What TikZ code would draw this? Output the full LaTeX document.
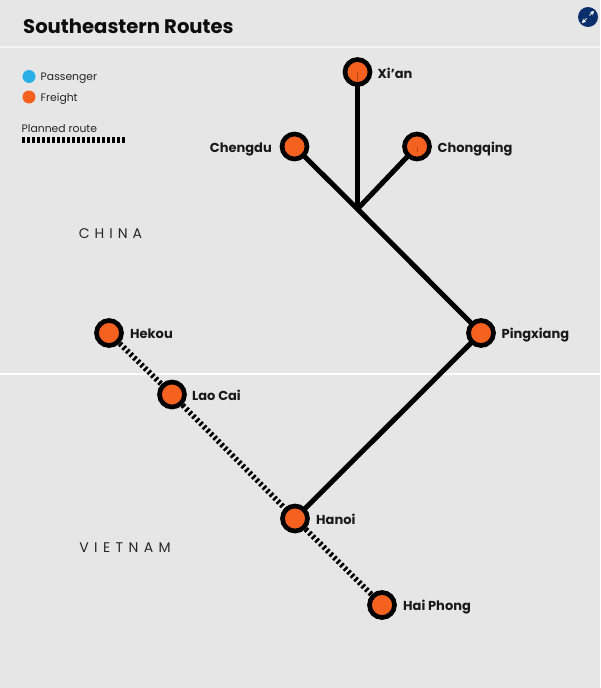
\documentclass[tikz,border=0pt]{standalone}
\usepackage{fontspec}
\setmainfont{Poppins}
\usetikzlibrary{arrows.meta}
\definecolor{bgc}{HTML}{E6E6E6}
\definecolor{frt}{HTML}{F5611F}
\definecolor{pas}{HTML}{2AAFE6}
\definecolor{navy}{HTML}{0B2F6B}
\tikzset{
  x=1pt,y=-1pt,
  station/.style={circle,draw=black,fill=frt,line width=4.7pt,minimum size=25pt,inner sep=0pt},
  route/.style={draw=black,line width=5pt},
  planned/.style={draw=black,line width=5.5pt,dash pattern=on 2.5pt off 2.5pt},
  city/.style={font=\fontsize{13}{13}\selectfont\bfseries,text=black!90,inner sep=0pt,text height=10pt,text depth=0pt},
  region/.style={font=\fontsize{14}{14}\selectfont,text=black!85,inner sep=0pt},
  legendtext/.style={font=\fontsize{10.8}{12}\selectfont,text=black!85,inner sep=0pt,anchor=west,text height=8pt,text depth=0pt},
  dot/.style={circle,inner sep=0pt,minimum size=13pt},
  divider/.style={line width=2pt},
  tick/.style={draw=frt!75!black,line width=0.5pt},
}
\begin{document}
\begin{tikzpicture}
\useasboundingbox (0,0) rectangle (600,688);
\fill[bgc] (0,0) rectangle (600,688);
\draw[divider,draw=white!60!bgc] (0,47) -- (600,47);
\draw[divider,draw=white] (0,374) -- (600,374);
\node[anchor=west,inner sep=0pt,font=\fontsize{19.6}{20}\selectfont\bfseries,text=black!95,text height=14pt,text depth=0pt] (title) at (23,26.3) {Southeastern Routes};
\node[dot,fill=pas] (lp) at (29,76.5) {};
\node[dot,fill=frt] (lf) at (29,97) {};
\node[legendtext] (lpt) at (40.5,76.5) {Passenger};
\node[legendtext] (lft) at (40.5,97.7) {Freight};
\node[legendtext] (lrt) at (21.5,128.7) {Planned route};
\coordinate (pa) at (22,140);
\coordinate (pb) at (125,140);
\draw[planned,line width=6pt] (pa) -- (pb);
\node[region] (china) at (110.5,234) {C\hspace{4.95pt}H\hspace{4.95pt}I\hspace{4.95pt}N\hspace{4.95pt}A};
\node[region] (vietnam) at (125,548) {V\hspace{5.4pt}I\hspace{5.4pt}E\hspace{5.4pt}T\hspace{5.4pt}N\hspace{5.4pt}A\hspace{5.4pt}M};
\coordinate (junc) at (357.5,209);
\coordinate (xianc) at (357.5,72);
\coordinate (chengduc) at (294.5,146.5);
\coordinate (chongqingc) at (417,146.5);
\coordinate (pingxiangc) at (481,333);
\coordinate (hanoic) at (295,518.5);
\coordinate (haiphongc) at (382,605);
\coordinate (laocaic) at (172,394.5);
\coordinate (hekouc) at (109,333);
\draw[planned] (hekouc) -- (laocaic);
\draw[planned] (laocaic) -- (hanoic);
\draw[planned] (hanoic) -- (haiphongc);
\draw[route] (xianc) -- (junc);
\draw[route] (chengduc) -- (junc);
\draw[route] (chongqingc) -- (junc);
\draw[route] (junc) -- (pingxiangc);
\draw[route] (pingxiangc) -- (hanoic);
\node[station] (xian) at (xianc) {};
\node[station] (chengdu) at (chengduc) {};
\node[station] (chongqing) at (chongqingc) {};
\node[station] (pingxiang) at (pingxiangc) {};
\node[station] (hanoi) at (hanoic) {};
\node[station] (haiphong) at (haiphongc) {};
\node[station] (laocai) at (laocaic) {};
\node[station] (hekou) at (hekouc) {};
\draw[tick] (xianc) -- ++(0,9);
\draw[tick] (chongqingc) -- ++(0,5);
\node[city,anchor=west] (xiant) at (377.5,73) {Xi’an};
\node[city,anchor=east] (chengdut) at (272,147) {Chengdu};
\node[city,anchor=west] (chongqingt) at (437.5,147) {Chongqing};
\node[city,anchor=west] (pingxiangt) at (501.5,333) {Pingxiang};
\node[city,anchor=west] (hanoit) at (316,519) {Hanoi};
\node[city,anchor=west] (haiphongt) at (403,605) {Hai Phong};
\node[city,anchor=west] (laocait) at (192,395) {Lao Cai};
\node[city,anchor=west] (hekout) at (130,333) {Hekou};
\node[circle,fill=navy,minimum size=20pt,inner sep=0pt] (icon) at (588,17) {};
\draw[white,line width=1pt,-{Stealth[length=4pt,width=4.5pt]}] (589.5,15.5) -- (594,11);
\draw[white,line width=1pt,-{Stealth[length=4pt,width=4.5pt]}] (586.5,18.5) -- (582,23);
\end{tikzpicture}
\end{document}
